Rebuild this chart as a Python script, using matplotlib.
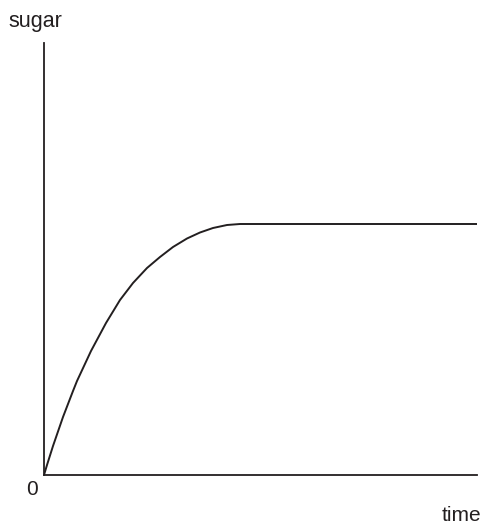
import numpy as np
import matplotlib
matplotlib.use('Agg')
import matplotlib.pyplot as plt

plt.rcParams['font.family'] = ['Liberation Sans', 'DejaVu Sans']

# values (arbitrary units)
time = [0, 3, 9, 19, 29, 33, 47, 62, 76, 89, 103, 116,
        129, 143, 156, 169, 183, 196, 433]
sugar = [0, 10, 29, 58, 84, 94, 124, 152, 175, 192, 207, 218,
         228, 236.5, 242.5, 247, 250, 251, 251]
x_max = 433
y_max = 432

W, H = 485, 524
ink = '#231f20'

fig = plt.figure(figsize=(W / 100, H / 100), dpi=100)
ax = fig.add_axes([44 / W, 1 - 475 / H, (477 - 44) / W, (475 - 43) / H])

ax.plot(time, sugar, color=ink, lw=1.4, solid_joinstyle='round')
ax.set_xlim(0, x_max)
ax.set_ylim(0, y_max)

for s in ['top', 'right']:
    ax.spines[s].set_visible(False)
for s in ['left', 'bottom']:
    ax.spines[s].set_color(ink)
    ax.spines[s].set_linewidth(1.3)
ax.set_xticks([])
ax.set_yticks([])

# labels
fig.text(35 / W, 1 - 27 / H, 'sugar', ha='center', va='baseline', fontsize=15.5, color=ink)
fig.text(32 / W, 1 - 495 / H, '0', ha='center', va='baseline', fontsize=15, color=ink)
fig.text(461 / W, 1 - 521 / H, 'time', ha='center', va='baseline', fontsize=15, color=ink)

fig.savefig('out.png', dpi=100)
